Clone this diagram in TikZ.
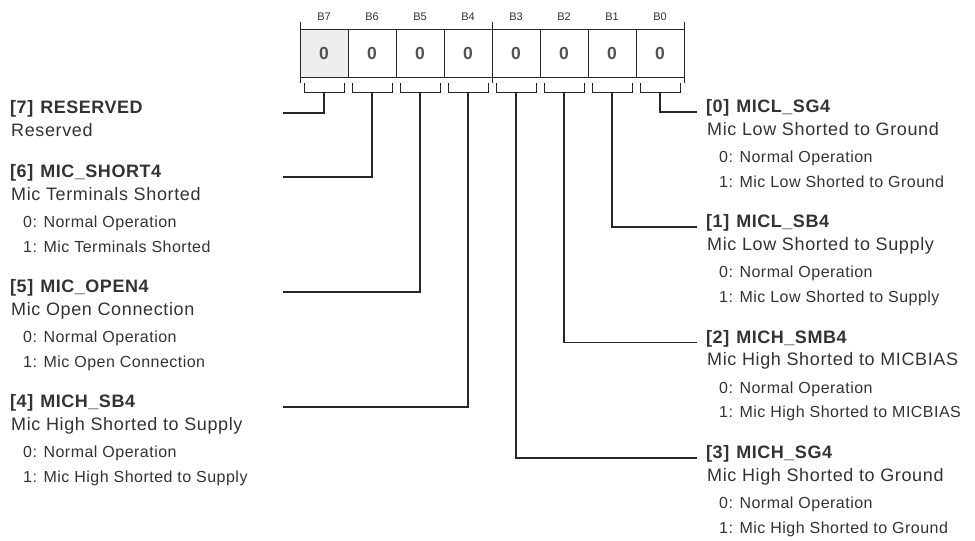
\documentclass[tikz,border=0pt]{standalone}
\usepackage{fontspec}
\usetikzlibrary{calc}
\setmainfont{Liberation Sans}
\newfontfamily\ttlfont[LetterSpace=3]{Liberation Sans}
\newfontfamily\dscfont[LetterSpace=3.5]{Liberation Sans}
\newfontfamily\valfont[LetterSpace=3]{Liberation Sans}
\definecolor{txt}{HTML}{333333}
\definecolor{lin}{HTML}{262626}
\definecolor{cellfill}{HTML}{EEEEEE}
\newcommand\regfield[6]{%
  \node[ttl] (#1t) at (#2, #3+0.5) {#4};
  \node[dsc] (#1d) at (#2+1, #3+23) {#5};
  \node[val] (#1a) at (#2+13, #3+50.5) {0: Normal Operation};
  \node[val] (#1b) at (#2+13, #3+75) {1: #6};
}
\begin{document}
\begin{tikzpicture}[x=1pt,y=-1pt,
  cell/.style={draw=lin, line width=0.9pt, minimum width=48pt, minimum height=48pt, inner sep=0pt, outer sep=0pt,
    font=\fontsize{17.5}{18}\selectfont\bfseries, text=black!68},
  blab/.style={font=\fontsize{11}{12}\selectfont, text=txt, inner sep=0pt},
  ttl/.style={anchor=base west, inner sep=0pt, font=\ttlfont\fontsize{18}{20}\selectfont\bfseries, text=txt},
  dsc/.style={anchor=base west, inner sep=0pt, font=\dscfont\fontsize{18}{20}\selectfont, text=txt},
  val/.style={anchor=base west, inner sep=0pt, font=\valfont\fontsize{16}{18}\selectfont, text=txt},
  conn/.style={draw=lin, line width=1.1pt},
  brk/.style={draw=lin, line width=1pt},
  tick/.style={draw=lin, line width=0.8pt}]
\useasboundingbox (0,0) rectangle (975,541);
% register cells
\node[cell, fill=cellfill] (c7) at (324,53) {0};
\node[cell] (c6) at (372,53) {0};
\node[cell] (c5) at (420,53) {0};
\node[cell] (c4) at (468,53) {0};
\node[cell] (c3) at (516,53) {0};
\node[cell] (c2) at (564,53) {0};
\node[cell] (c1) at (612,53) {0};
\node[cell] (c0) at (660,53) {0};
\foreach \i in {7,...,0}{
  \node[blab] (l\i) at ($(c\i.north)+(0,-12)$) {B\i};
  \draw[brk] ($(c\i.south)+(-20,6)$) -- ++(0,9.5) -- ++(40,0) -- ++(0,-9.5);
  \coordinate (b\i) at ($(c\i.south)+(0,15.5)$);
}
% ticks
\draw[tick] (c7.north west) -- ++(0,-7);
\draw[tick] (c3.north west) -- ++(0,-7);
\draw[tick] (c0.north east) -- ++(0,-7);
\draw[tick] (c7.south west) -- ++(0,6);
\draw[tick] (c3.south west) -- ++(0,6);
\draw[tick] (c0.south east) -- ++(0,6);
% connector ends
\coordinate (e7) at (283,113);
\coordinate (e6) at (283,177);
\coordinate (e5) at (283,292);
\coordinate (e4) at (283,407);
\coordinate (e0) at (697,112);
\coordinate (e1) at (697,227);
\coordinate (e2) at (697,342.5);
\coordinate (e3) at (697,458);
\foreach \i in {7,...,0}{ \draw[conn] (b\i) |- (e\i); }
% left texts
\node[ttl] (f7t) at (10,113.5) {[7]\hspace{7pt}RESERVED};
\node[dsc] (f7d) at (11,136) {Reserved};
\regfield{f6}{10}{177}{[6]\hspace{7pt}MIC\_SHORT4}{Mic Terminals Shorted}{Mic Terminals Shorted}
\regfield{f5}{10}{292}{[5]\hspace{7pt}MIC\_OPEN4}{Mic Open Connection}{Mic Open Connection}
\regfield{f4}{10}{407}{[4]\hspace{7pt}MICH\_SB4}{Mic High Shorted to Supply}{Mic High Shorted to Supply}
% right texts
\regfield{f0}{706}{112}{[0]\hspace{7pt}MICL\_SG4}{Mic Low Shorted to Ground}{Mic Low Shorted to Ground}
\regfield{f1}{706}{227}{[1]\hspace{7pt}MICL\_SB4}{Mic Low Shorted to Supply}{Mic Low Shorted to Supply}
\regfield{f2}{706}{342.5}{[2]\hspace{7pt}MICH\_SMB4}{Mic High Shorted to MICBIAS}{Mic High Shorted to MICBIAS}
\regfield{f3}{706}{458}{[3]\hspace{7pt}MICH\_SG4}{Mic High Shorted to Ground}{Mic High Shorted to Ground}
\end{tikzpicture}
\end{document}
